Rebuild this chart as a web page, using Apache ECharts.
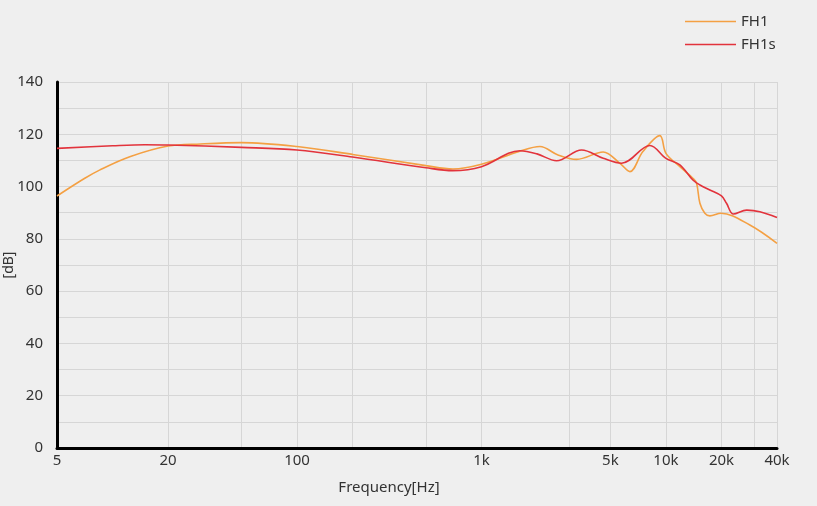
<!DOCTYPE html>
<html>
<head>
<meta charset="utf-8">
<script src="https://cdn.jsdelivr.net/npm/echarts@6/dist/echarts.min.js"></script>
<style>
html,body{margin:0;padding:0;background:#efefef;}
#c{width:817px;height:506px;}
</style>
</head>
<body>
<div id="c"></div>
<script>
// Frequencies (Hz) and levels (dB)
const fh1Freq = [5, 7, 8.5, 12.4, 20, 30, 50, 100, 200, 500, 700, 1000, 1600, 2075, 2600, 3280, 4570, 5630, 6380, 7500, 9270, 10000, 11900, 14000, 14660, 15280, 16250, 17300, 19900, 28500, 40000];
const fh1Vals = [96.4, 103, 106.3, 111.4, 115.5, 116.3, 116.8, 115.3, 112.3, 108, 106.7, 108.5, 113.4, 115.3, 112.1, 110.4, 113.2, 108.9, 105.7, 113.4, 119.5, 112.7, 107.6, 103.2, 101.3, 93.6, 89.8, 88.8, 89.8, 85.3, 78.3];

const fh1sFreq = [5, 10, 15, 20, 50, 100, 200, 500, 700, 1000, 1616, 2000, 2554, 3490, 4570, 5750, 8190, 10000, 11900, 14000, 15300, 17300, 20000, 21300, 23200, 27400, 32300, 40000];
const fh1sVals = [114.6, 115.6, 116, 115.9, 115, 114, 111.3, 107.2, 106.1, 107.6, 113.7, 112.5, 109.9, 114.0, 110.8, 108.9, 115.7, 110.8, 108.3, 102.5, 100.6, 98.7, 96.4, 93.6, 89.5, 91.0, 90.4, 88.2];

const xGridValues = [20, 50, 100, 200, 500, 1000, 3000, 5000, 10000, 20000, 30000, 40000];
const xLabelValues = [5, 20, 100, 1000, 5000, 10000, 20000, 40000];

function pairs(f, v){ return f.map((x,i)=>[x, v[i]]); }
function fmtHz(v){ return v >= 1000 ? (v/1000) + 'k' : String(v); }

const chart = echarts.init(document.getElementById('c'));
const font = '"Noto Sans", sans-serif';
const lineIcon = 'path://M0,0 L100,0 L100,3 L0,3 Z';
chart.setOption({
  backgroundColor: '#efefef',
  animation: false,
  textStyle: {fontFamily: font},
  legend: {
    orient: 'vertical',
    left: 685, top: 14, padding: 0,
    itemWidth: 51, itemHeight: 2, itemGap: 8,
    textStyle: {fontSize: 15, color: '#333', fontFamily: font},
    data: [{name: 'FH1', icon: lineIcon}, {name: 'FH1s', icon: lineIcon}]
  },
  grid: {left: 57, right: 40, top: 82, bottom: 58, containLabel: false, outerBoundsMode: 'none'},
  xAxis: {
    type: 'log', logBase: 10, min: 5, max: 40000,
    name: 'Frequency[Hz]', nameLocation: 'middle', nameGap: 32,
    nameTextStyle: {fontSize: 15, color: '#333', fontFamily: font, padding: [0, 56, 0, 0]},
    axisLine: {show: true, onZero: false, lineStyle: {color: '#000', width: 3}},
    axisTick: {show: false, customValues: xGridValues},
    axisLabel: {customValues: xLabelValues, formatter: fmtHz, fontSize: 15, color: '#333', margin: 5, fontFamily: font},
    splitLine: {show: true, lineStyle: {color: '#d6d6d6', width: 1}},
    minorSplitLine: {show: false}
  },
  yAxis: {
    type: 'value', min: 0, max: 140, interval: 10,
    name: '[dB]', nameLocation: 'middle', nameGap: 41, nameRotate: 90, nameMoveOverlap: false,
    nameTextStyle: {fontSize: 14, color: '#333', fontFamily: font},
    axisLine: {show: true, lineStyle: {color: '#000', width: 3}},
    axisTick: {show: false},
    axisLabel: {fontSize: 15, color: '#333', margin: 14, fontFamily: font,
      formatter: v => (v % 20 === 0 ? String(v) : '')},
    splitLine: {show: true, lineStyle: {color: '#d6d6d6', width: 1}}
  },
  series: [
    {name: 'FH1', type: 'line', data: pairs(fh1Freq, fh1Vals), smooth: 0.35, symbol: 'none',
     lineStyle: {color: '#F4A043', width: 1.6}, itemStyle: {color: '#F4A043'}},
    {name: 'FH1s', type: 'line', data: pairs(fh1sFreq, fh1sVals), smooth: 0.35, symbol: 'none',
     lineStyle: {color: '#E2333C', width: 1.6}, itemStyle: {color: '#E2333C'}}
  ]
});
</script>
</body>
</html>
